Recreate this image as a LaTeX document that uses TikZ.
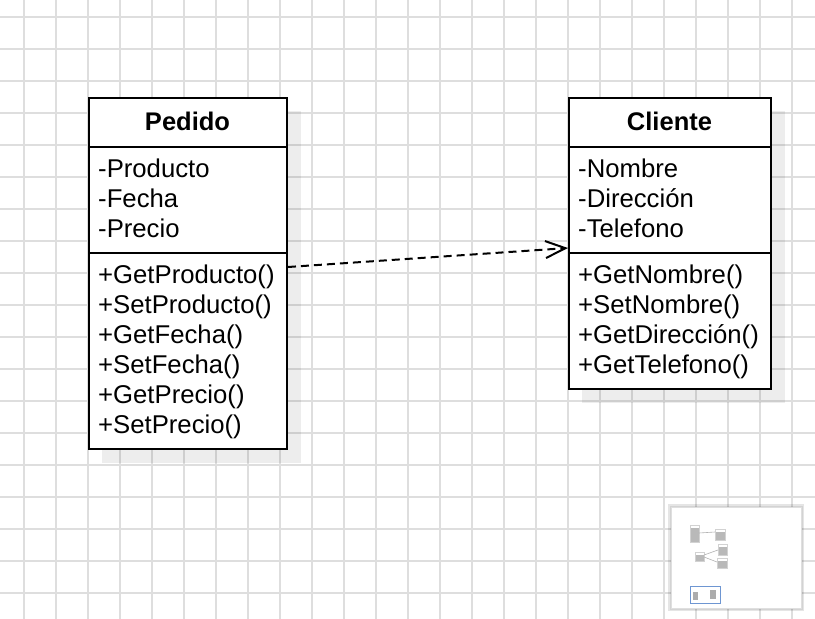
\documentclass[tikz,border=0pt]{standalone}
\usepackage{fontspec}
\setmainfont{Liberation Sans}
\usetikzlibrary{arrows.meta,calc}
\definecolor{gridc}{RGB}{222,222,222}
\definecolor{minib}{RGB}{110,150,210}
\begin{document}
\begin{tikzpicture}[x=1pt,y=-1pt,
  gridline/.style={draw=gridc,line width=2pt},
  classbox/.style={draw=black,line width=2pt,fill=white,inner sep=0pt,anchor=north west},
  shadowbox/.style={fill=black,fill opacity=0.07,draw=none},
  divider/.style={draw=black,line width=2pt},
  member/.style={inner sep=0pt,anchor=base west,font=\fontsize{25.7}{30}\selectfont},
  title/.style={inner sep=0pt,anchor=base,font=\fontsize{25.5}{30}\selectfont\bfseries},
  depend/.style={draw=black,line width=2pt,dash pattern=on 8pt off 5pt,
    -{Straight Barb[length=20pt,width=17pt,line width=2pt]}},
  minibox/.style={fill=gray!55,draw=gray!35,line width=0.5pt},
]
\useasboundingbox (0,0) rectangle (815,619);
\fill[white] (0,0) rectangle (815,619);
% grid
\foreach \k in {0,...,24} \draw[gridline] (24+32*\k,0) -- (24+32*\k,619);
\foreach \k in {0,...,18} \draw[gridline] (0,16.5+32*\k) -- (815,16.5+32*\k);

% shadows
\fill[shadowbox] (102,111) rectangle (301,463);
\fill[shadowbox] (582,111) rectangle (785,403);

% Pedido class
\node[classbox,minimum width=198pt,minimum height=351pt] (pedido) at (88,97) {};
\draw[divider] ($(pedido.north west)+(0,50)$) -- ($(pedido.north east)+(0,50)$);
\draw[divider] ($(pedido.north west)+(0,156)$) -- ($(pedido.north east)+(0,156)$);
\node[title] (pedidoT) at (187.5,130) {Pedido};
\foreach \t [count=\i] in {-Producto,-Fecha,-Precio}
  \node[member] (pa\i) at (98,177+30*\i-30) {\t};
\foreach \t [count=\i] in {+GetProducto(),+SetProducto(),+GetFecha(),+SetFecha(),+GetPrecio(),+SetPrecio()}
  \node[member] (pm\i) at (98,283+30*\i-30) {\t};

% Cliente class
\node[classbox,minimum width=202pt,minimum height=291pt] (cliente) at (568,97) {};
\draw[divider] ($(cliente.north west)+(0,50)$) -- ($(cliente.north east)+(0,50)$);
\draw[divider] ($(cliente.north west)+(0,156)$) -- ($(cliente.north east)+(0,156)$);
\node[title] (clienteT) at (669.5,130) {Cliente};
\foreach \t [count=\i] in {-Nombre,-Dirección,-Telefono}
  \node[member] (ca\i) at (578,177+30*\i-30) {\t};
\foreach \t [count=\i] in {+GetNombre(),+SetNombre(),+GetDirección(),+GetTelefono()}
  \node[member] (cm\i) at (578,283+30*\i-30) {\t};

% dependency
\coordinate (depS) at ($(pedido.north east)+(0,170)$);
\coordinate (depE) at ($(cliente.north west)+(0,151)$);
\draw[depend] (depS) -- (depE);

% minimap panel
\fill[black,opacity=0.10] (668,504) rectangle (804,611);
\fill[black,opacity=0.08] (669.5,505.5) rectangle (802.5,609.5);
\draw[fill=white,draw=gray!25,line width=1pt] (671,507) rectangle (801,608);
% thumbnails
\draw[minibox] (690,525) rectangle (699,542);
\draw[minibox] (715,529) rectangle (725,540);
\draw[minibox] (718,544) rectangle (727,555);
\draw[minibox] (695,552) rectangle (704,561);
\draw[minibox] (717,558) rectangle (727,568);
\fill[white] (690.5,525.5) rectangle (698.5,527.5);
\fill[white] (715.5,529.5) rectangle (724.5,531.5);
\fill[white] (718.5,544.5) rectangle (726.5,546.5);
\fill[white] (695.5,552.5) rectangle (703.5,554.5);
\fill[white] (717.5,558.5) rectangle (726.5,560.5);
\draw[gray!60,line width=0.6pt] (699,533) -- (715,532);
\draw[gray!60,line width=0.6pt] (704,555) -- (718,550);
\draw[gray!60,line width=0.6pt] (704,557) -- (717,562);
\draw[minib,line width=1pt] (690,586) rectangle (720,603);
\fill[gray!65] (693,592) rectangle (698,600);
\fill[gray!65] (710,590) rectangle (716,599);
\end{tikzpicture}
\end{document}
